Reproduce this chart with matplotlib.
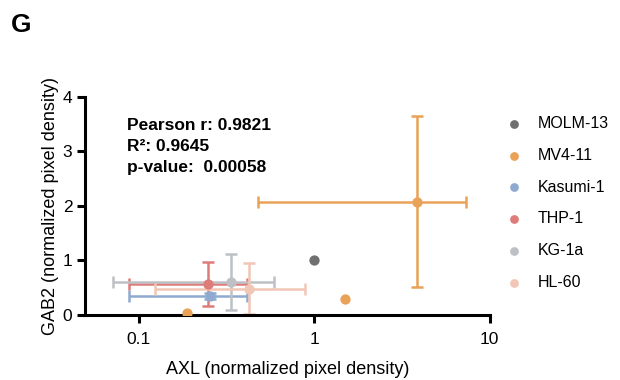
import matplotlib.pyplot as plt
from matplotlib.ticker import NullLocator, FixedLocator, FixedFormatter

plt.rcParams['font.family'] = ['Liberation Sans', 'DejaVu Sans']

# mean values with SD (linear units)
lines = ['MOLM-13', 'MV4-11', 'Kasumi-1', 'THP-1', 'KG-1a', 'HL-60']
colors = ['#707070', '#E9A257', '#8FAAD0', '#DD7C79', '#BDC1C5', '#F2C6B6']
axl = [1.0, 3.86, 0.253, 0.248, 0.333, 0.424]
axl_lo = [0, 3.38, 0.165, 0.160, 0.262, 0.30]
axl_hi = [0, 3.41, 0.161, 0.166, 0.260, 0.456]
gab2 = [1.01, 2.08, 0.35, 0.57, 0.61, 0.48]
gab2_err = [0, 1.57, 0.05, 0.41, 0.51, 0.47]

# extra MV4-11 replicate points
mv_x = [1.5, 0.189]
mv_y = [0.29, 0.03]

fig = plt.figure(figsize=(6.2, 3.8), dpi=100)
ax = fig.add_axes([0.137, 0.171, 0.653, 0.574])

for i in range(len(lines)):
    if axl_lo[i] > 0:
        ax.errorbar(axl[i], gab2[i], xerr=[[axl_lo[i]], [axl_hi[i]]],
                    yerr=gab2_err[i], fmt='none', ecolor=colors[i],
                    elinewidth=1.8, capsize=4, capthick=1.8, zorder=2)
    ax.scatter(axl[i], gab2[i], s=55, color=colors[i], label=lines[i],
               zorder=3, linewidths=0)
ax.scatter(mv_x, mv_y, s=55, color=colors[1], zorder=3, linewidths=0)

ax.set_xscale('log')
ax.set_xlim(0.0493, 10)
ax.set_ylim(0, 4)
ax.xaxis.set_major_locator(FixedLocator([0.1, 1, 10]))
ax.xaxis.set_major_formatter(FixedFormatter(['0.1', '1', '10']))
ax.xaxis.set_minor_locator(NullLocator())
ax.set_yticks([0, 1, 2, 3, 4])

for s in ['top', 'right']:
    ax.spines[s].set_visible(False)
for s in ['left', 'bottom']:
    ax.spines[s].set_linewidth(2.2)
ax.tick_params(width=2.2, length=6, labelsize=12.5, pad=3)
ax.tick_params(axis='x', pad=6)

ax.set_xlabel('AXL (normalized pixel density)', fontsize=13, labelpad=10)
ax.set_ylabel('GAB2 (normalized pixel density)', fontsize=13, labelpad=3)

ax.text(0.104, 0.905, 'Pearson r: 0.9821\nR²: 0.9645\np-value:  0.00058',
        transform=ax.transAxes, fontsize=12.5, fontweight='bold',
        va='top', linespacing=1.5)

ax.legend(loc='upper left', bbox_to_anchor=(0.985, 0.978), frameon=False,
          fontsize=11.5, handletextpad=0.5, labelspacing=1.05,
          markerscale=0.85)

fig.text(0.017, 0.915, 'G', fontsize=19, fontweight='bold')

fig.savefig('out.png', dpi=100)
